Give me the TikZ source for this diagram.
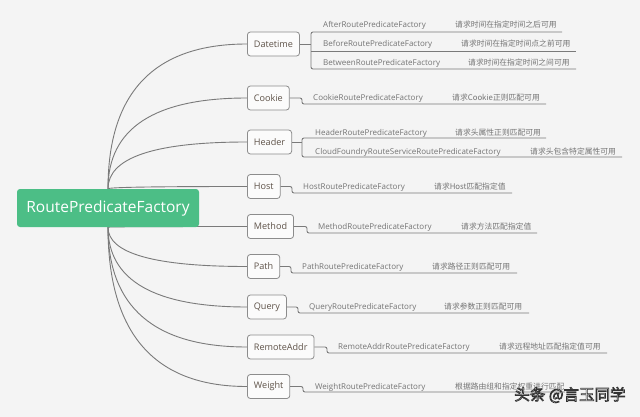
\documentclass[tikz,border=0pt]{standalone}
\usepackage{fontspec}
\setmainfont{Open Sans}
\newfontfamily\cjk{Noto Sans CJK SC}
\usetikzlibrary{calc}
\definecolor{bgc}{HTML}{F4F4F4}
\definecolor{rootc}{HTML}{4CBE86}
\definecolor{linec}{HTML}{7A7A7A}
\definecolor{boxc}{HTML}{8C8C8C}
\definecolor{boxfill}{HTML}{FBFBFB}
\definecolor{brc}{HTML}{5E5248}
\definecolor{leafc}{HTML}{747474}
\pgfdeclarelayer{bgl}
\pgfdeclarelayer{lines}
\pgfsetlayers{bgl,lines,main}
\newcommand{\outlinedtext}[1]{\special{pdf:literal direct 0.2 0.2 0.2 RG 1 1 1 rg 0.7 w 2 Tr}#1\special{pdf:literal direct 0 Tr}}
\tikzset{
  branch/.style={draw=boxc, fill=boxfill, rounded corners=3pt, line width=0.8pt,
    font=\fontsize{9.1}{10}\selectfont, text=brc, minimum height=24pt,
    inner xsep=6.5pt, anchor=west},
  leaf/.style={font=\fontsize{8}{9}\selectfont, text=leafc, anchor=west, inner sep=0pt},
  cn/.style={font=\cjk\fontsize{7.8}{9}\selectfont, text=leafc, anchor=west, inner sep=0pt},
  link/.style={draw=linec, line width=0.9pt},
  uline/.style={draw=linec, line width=0.9pt, rounded corners=2pt},
}
\begin{document}
\begin{tikzpicture}[x=1pt,y=-1pt]
\begin{pgfonlayer}{bgl}
\fill[bgc] (0,0) rectangle (640,417);
\end{pgfonlayer}
\useasboundingbox (0,0) rectangle (640,417);

% root
\node[fill=rootc, rounded corners=3pt, minimum width=182pt, minimum height=38pt,
  inner sep=0pt, text=white, font=\fontsize{15.5}{17}\selectfont] (root) at (108,208) {RoutePredicateFactory};

% branches
\node[branch] (dt) at (247,44) {Datetime};
\node[branch] (ck) at (247,98) {Cookie};
\node[branch] (hd) at (247,142) {Header};
\node[branch] (hs) at (247,186.5) {Host};
\node[branch] (md) at (247,226.5) {Method};
\node[branch] (pt) at (247,266.5) {Path};
\node[branch] (qr) at (247,307) {Query};
\node[branch] (ra) at (247,347) {RemoteAddr};
\node[branch] (wt) at (247,386.5) {Weight};

% curves
\begin{pgfonlayer}{lines}
\foreach \b in {dt,ck,hd,hs}
  \draw[link] (root.north) .. controls ($(root.north)!0.667!(root.north|-\b.west)$) and ($(\b.west)!0.667!(root.north|-\b.west)$) .. (\b.west);
\foreach \b in {md,pt,qr,ra,wt}
  \draw[link] (root.south) .. controls ($(root.south)!0.667!(root.south|-\b.west)$) and ($(\b.west)!0.667!(root.south|-\b.west)$) .. (\b.west);
\end{pgfonlayer}

% Datetime leaves
\node[leaf] (a1) at (323,25) {AfterRoutePredicateFactory};
\node[cn] (a1c) at (455,25) {请求时间在指定时间之后可用};
\node[leaf] (a2) at (323,44) {BeforeRoutePredicateFactory};
\node[cn] (a2c) at (461,44) {请求时间在指定时间点之前可用};
\node[leaf] (a3) at (323,63) {BetweenRoutePredicateFactory};
\node[cn] (a3c) at (468,63) {请求时间在指定时间之间可用};
\coordinate (dtj) at (311,44);
\coordinate (a1e) at (562,32);
\coordinate (a2e) at (576,51);
\coordinate (a3e) at (576,69);
\draw[link] (dt.east) -- (dtj);
\draw[uline] (a1e) -- (a1e-|dtj) -- (a3e-|dtj) -- (a3e);
\draw[link] (a2e-|dtj) -- (a2e);

% Cookie
\node[leaf] (b1) at (313,98) {CookieRoutePredicateFactory};
\node[cn] (b1c) at (452,98) {请求Cookie正则匹配可用};
\coordinate (b1e) at (546,104);
\draw[uline] (ck.east) -- (302,98) -- (302,104) -- (b1e);

% Header
\node[leaf] (c1) at (315,133) {HeaderRoutePredicateFactory};
\node[cn] (c1c) at (455,133) {请求头属性正则匹配可用};
\node[leaf] (c2) at (315,152) {CloudFoundryRouteServiceRoutePredicateFactory};
\node[cn] (c2c) at (530,152) {请求头包含特定属性可用};
\coordinate (hdj) at (302,142);
\coordinate (c1e) at (546,138);
\coordinate (c2e) at (622,157);
\draw[link] (hd.east) -- (hdj);
\draw[uline] (c1e) -- (c1e-|hdj) -- (c2e-|hdj) -- (c2e);

% Host
\node[leaf] (d1) at (303,187) {HostRoutePredicateFactory};
\node[cn] (d1c) at (434,187) {请求Host匹配指定值};
\coordinate (d1e) at (512,193);
\draw[uline] (hs.east) -- (292,186.5) -- (292,193) -- (d1e);

% Method
\node[leaf] (e1) at (318,227) {MethodRoutePredicateFactory};
\node[cn] (e1c) at (461,227) {请求方法匹配指定值};
\coordinate (e1e) at (537,233);
\draw[uline] (md.east) -- (307,226.5) -- (307,233) -- (e1e);

% Path
\node[leaf] (f1) at (302,267) {PathRoutePredicateFactory};
\node[cn] (f1c) at (432,267) {请求路径正则匹配可用};
\coordinate (f1e) at (517,273);
\draw[uline] (pt.east) -- (291,266.5) -- (291,273) -- (f1e);

% Query
\node[leaf] (g1) at (309,307) {QueryRoutePredicateFactory};
\node[cn] (g1c) at (444,307) {请求参数正则匹配可用};
\coordinate (g1e) at (529,313);
\draw[uline] (qr.east) -- (298,307) -- (298,313) -- (g1e);

% RemoteAddr
\node[leaf] (h1) at (338,347) {RemoteAddrRoutePredicateFactory};
\node[cn] (h1c) at (499,347) {请求远程地址匹配指定值可用};
\coordinate (h1e) at (607,353);
\draw[uline] (ra.east) -- (327,347) -- (327,353) -- (h1e);

% Weight
\node[leaf] (i1) at (315,387) {WeightRoutePredicateFactory};
\node[cn] (i1c) at (455,387) {根据路由组和指定权重进行匹配};
\coordinate (i1e) at (565,392);
\draw[uline] (wt.east) -- (303,386.5) -- (303,392) -- (i1e);

% watermark
\node[font=\cjk\fontsize{15.5}{17}\selectfont, inner sep=0pt] (wm) at (570,395) {\outlinedtext{头条 @言玉同学}};
\end{tikzpicture}
\end{document}
